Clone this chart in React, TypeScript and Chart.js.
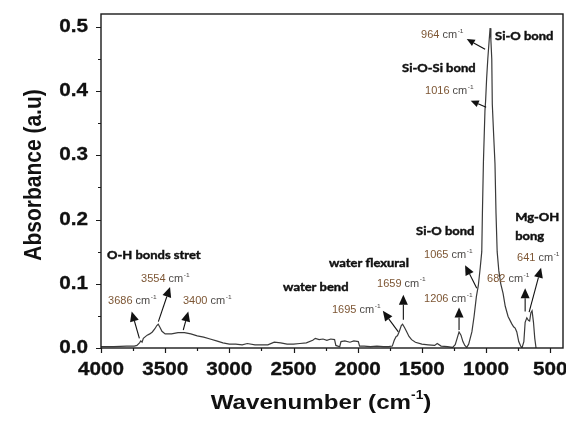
import React, { useEffect, useRef } from "react";
import { Chart, registerables } from "chart.js";

Chart.register(...registerables);

// ---- data ----
const wavenumbers = [
  4000, 3900, 3800, 3740, 3720, 3700, 3690, 3680, 3670, 3640,
  3620, 3600, 3580, 3565, 3554, 3540, 3525, 3500, 3450, 3400,
  3350, 3300, 3250, 3200, 3150, 3100, 3050, 3000, 2950, 2900,
  2860, 2800, 2700, 2650, 2600, 2550, 2500, 2450, 2400, 2350,
  2330, 2300, 2270, 2240, 2210, 2180, 2170, 2140, 2130, 2100,
  2060, 2030, 1995, 1985, 1950, 1900, 1850, 1800, 1760, 1730,
  1715, 1700, 1690, 1675, 1660, 1650, 1635, 1620, 1600, 1580,
  1550, 1500, 1450, 1400, 1380, 1350, 1300, 1260, 1240, 1225,
  1210, 1195, 1180, 1165, 1150, 1135, 1110, 1093, 1075, 1060,
  1045, 1033, 1028, 1020, 1008, 1003, 995, 986, 975, 968,
  962, 955, 951, 940, 930, 922, 913, 900, 885, 867,
  850, 828, 800, 785, 773, 760, 745, 730, 720, 705,
  695, 682, 670, 660, 650, 641, 630, 620, 610, 600,
];
const absorbance = [
  0.002, 0.002, 0.003, 0.003, 0.004, 0.008, 0.011, 0.009, 0.015, 0.02,
  0.022, 0.025, 0.03, 0.035, 0.037, 0.032, 0.026, 0.022, 0.022, 0.024,
  0.024, 0.022, 0.019, 0.017, 0.014, 0.011, 0.008, 0.006, 0.006, 0.005,
  0.007, 0.005, 0.005, 0.009, 0.008, 0.006, 0.006, 0.007, 0.008, 0.012,
  0.015, 0.013, 0.014, 0.012, 0.014, 0.013, 0.004, 0.002, 0.01, 0.011,
  0.009, 0.011, 0.01, 0.003, 0.003, 0.002, 0.003, 0.002, 0.002, 0.003,
  0.012, 0.018, 0.019, 0.026, 0.035, 0.037, 0.032, 0.026, 0.018, 0.013,
  0.009, 0.006, 0.005, 0.004, 0.007, 0.003, 0.002, 0.001, 0.005, 0.015,
  0.025, 0.02, 0.01, 0.004, 0.001, 0.006, 0.025, 0.049, 0.08, 0.097,
  0.125, 0.15, 0.21, 0.29, 0.37, 0.385, 0.42, 0.45, 0.48, 0.498,
  0.48, 0.45, 0.38, 0.33, 0.287, 0.21, 0.15, 0.12, 0.1, 0.085,
  0.065, 0.049, 0.038, 0.033, 0.031, 0.025, 0.01, 0.003, 0.0, 0.01,
  0.04, 0.047, 0.043, 0.042, 0.055, 0.058, 0.04, 0.015, 0.0, -0.01,
];

const xMajorTicks = [4000, 3500, 3000, 2500, 2000, 1500, 1000, 500];
const xMinorTicks = [3750, 3250, 2750, 2250, 1750, 1250, 750];
const yMajorTicks = [0, 0.1, 0.2, 0.3, 0.4, 0.5];
const yMinorTicks = [0.05, 0.15, 0.25, 0.35, 0.45];
const yTickLabels = ["0.0", "0.1", "0.2", "0.3", "0.4", "0.5"];

const xTitle = "Wavenumber (cm";
const yTitle = "Absorbance (a.u)";

// group labels (bold): text, wavenumber (left), absorbance (middle)
const groupLabels: [string, number, number][] = [
  ["O-H bonds stret", 3953, 0.145],
  ["water bend", 2581, 0.095],
  ["water flexural", 2223, 0.132],
  ["Si-O bond", 1545, 0.182],
  ["Mg-OH", 773, 0.204],
  ["bong", 773, 0.174],
  ["Si-O-Si bond", 1654, 0.435],
  ["Si-O bond", 929, 0.486],
];

// peak labels: number, wavenumber (left), absorbance (middle)
const peakLabels: [string, number, number][] = [
  ["3686", 3945, 0.073],
  ["3554", 3688, 0.107],
  ["3400", 3361, 0.073],
  ["1695", 2200, 0.059],
  ["1659", 1849, 0.1],
  ["1206", 1483, 0.076],
  ["1065", 1483, 0.145],
  ["682", 992, 0.107],
  ["641", 758, 0.14],
  ["1016", 1475, 0.4],
  ["964", 1506, 0.4875],
];

// arrows: tail wavenumber, tail absorbance, tip wavenumber, tip absorbance, head size
const arrows: [number, number, number, number, number][] = [
  [3701, 0.015, 3761, 0.057, 10],
  [3553, 0.041, 3462, 0.095, 10],
  [3359, 0.028, 3320, 0.057, 10],
  [1683, 0.025, 1804, 0.058, 10],
  [1644, 0.044, 1644, 0.083, 10],
  [1210, 0.028, 1210, 0.063, 10],
  [1072, 0.093, 1163, 0.129, 10],
  [695, 0.057, 695, 0.093, 10],
  [664, 0.056, 571, 0.125, 10],
  [999, 0.375, 1119, 0.385, 8],
  [1007, 0.465, 1150, 0.481, 8],
];

const SX = 1.15; // horizontal stretch of the reference text

function stretchedText(
  ctx: CanvasRenderingContext2D,
  text: string,
  x: number,
  y: number,
  font: string,
  color: string,
  align: CanvasTextAlign,
  sx = SX,
  stroke = 0
) {
  ctx.save();
  ctx.translate(x, y);
  ctx.scale(sx, 1);
  ctx.font = font;
  ctx.fillStyle = color;
  ctx.textAlign = align;
  ctx.textBaseline = "middle";
  ctx.fillText(text, 0, 0);
  if (stroke > 0) {
    ctx.strokeStyle = color;
    ctx.lineWidth = stroke;
    ctx.strokeText(text, 0, 0);
  }
  ctx.restore();
}

const decorPlugin = {
  id: "decor",
  afterDraw(chart: any) {
    const ctx: CanvasRenderingContext2D = chart.ctx;
    const xs = chart.scales.x;
    const ys = chart.scales.y;
    const a = chart.chartArea;
    ctx.save();
    // frame
    ctx.strokeStyle = "#1a1a1a";
    ctx.lineWidth = 1.4;
    ctx.strokeRect(a.left, a.top, a.right - a.left, a.bottom - a.top);
    // ticks
    ctx.lineWidth = 1.2;
    ctx.beginPath();
    xMajorTicks.forEach((v) => {
      const p = Math.round(xs.getPixelForValue(v)) + 0.5;
      ctx.moveTo(p, a.bottom);
      ctx.lineTo(p, a.bottom + 5);
    });
    xMinorTicks.forEach((v) => {
      const p = Math.round(xs.getPixelForValue(v)) + 0.5;
      ctx.moveTo(p, a.bottom);
      ctx.lineTo(p, a.bottom + 3);
    });
    yMajorTicks.forEach((v) => {
      const p = Math.round(ys.getPixelForValue(v)) + 0.5;
      ctx.moveTo(a.left, p);
      ctx.lineTo(a.left - 5, p);
    });
    yMinorTicks.forEach((v) => {
      const p = Math.round(ys.getPixelForValue(v)) + 0.5;
      ctx.moveTo(a.left, p);
      ctx.lineTo(a.left - 3, p);
    });
    ctx.stroke();

    const tickFont = "bold 18px 'Liberation Sans', Arial, sans-serif";
    xMajorTicks.forEach((v) => {
      stretchedText(ctx, String(v), xs.getPixelForValue(v), a.bottom + 22, tickFont, "#111", "center", SX, 0.3);
    });
    yMajorTicks.forEach((v, i) => {
      stretchedText(ctx, yTickLabels[i], a.left - 13, ys.getPixelForValue(v), tickFont, "#111", "right", SX, 0.3);
    });

    // x title with superscript
    const tFont = "bold 21px 'Liberation Sans', Arial, sans-serif";
    const supFont = "bold 12px 'Liberation Sans', Arial, sans-serif";
    ctx.font = tFont;
    const w1 = ctx.measureText(xTitle).width;
    const wClose = ctx.measureText(")").width;
    ctx.font = supFont;
    const wSup = ctx.measureText("-1").width;
    const total = (w1 + wSup + wClose) * SX;
    const cx = 321;
    const cy = a.bottom + 55;
    let sx0 = cx - total / 2;
    stretchedText(ctx, xTitle, sx0, cy, tFont, "#111", "left");
    sx0 += w1 * SX;
    stretchedText(ctx, "-1", sx0, cy - 7, supFont, "#111", "left");
    sx0 += wSup * SX;
    stretchedText(ctx, ")", sx0, cy, tFont, "#111", "left");

    // y title (rotated)
    ctx.save();
    ctx.translate(34, 175);
    ctx.rotate(-Math.PI / 2);
    ctx.scale(1, SX);
    ctx.font = tFont;
    ctx.fillStyle = "#111";
    ctx.textAlign = "center";
    ctx.textBaseline = "middle";
    ctx.fillText(yTitle, 0, 0);
    ctx.restore();

    // group labels
    const gFont = "bold 12px Lato, 'Liberation Sans', sans-serif";
    groupLabels.forEach(([t, w, v]) => {
      stretchedText(ctx, t, xs.getPixelForValue(w), ys.getPixelForValue(v), gFont, "#111", "left", 1.08, 0.45);
    });

    // peak labels
    const pFont = "10px 'Liberation Sans', Arial, sans-serif";
    const pSup = "6px 'Liberation Sans', Arial, sans-serif";
    peakLabels.forEach(([t, w, v]) => {
      let x = xs.getPixelForValue(w);
      const y = ys.getPixelForValue(v);
      ctx.font = pFont;
      const wn = ctx.measureText(t + " ").width;
      const wc = ctx.measureText("cm").width;
      stretchedText(ctx, t, x, y, pFont, "#7d5634", "left", 1.1);
      x += wn * 1.1;
      stretchedText(ctx, "cm", x, y, pFont, "#4d4a48", "left", 1.1);
      x += wc * 1.1;
      stretchedText(ctx, "-1", x + 0.5, y - 4, pSup, "#4d4a48", "left", 1.1);
    });

    // arrows
    ctx.strokeStyle = "#111";
    ctx.fillStyle = "#111";
    arrows.forEach(([w0, v0, w1a, v1, hs]) => {
      const x0 = xs.getPixelForValue(w0);
      const y0 = ys.getPixelForValue(v0);
      const x1 = xs.getPixelForValue(w1a);
      const y1 = ys.getPixelForValue(v1);
      const ang = Math.atan2(y1 - y0, x1 - x0);
      const bx = x1 - hs * Math.cos(ang);
      const by = y1 - hs * Math.sin(ang);
      ctx.lineWidth = 1.1;
      ctx.beginPath();
      ctx.moveTo(x0, y0);
      ctx.lineTo(bx, by);
      ctx.stroke();
      const hw = hs * 0.45;
      ctx.beginPath();
      ctx.moveTo(x1, y1);
      ctx.lineTo(bx + hw * Math.sin(ang), by - hw * Math.cos(ang));
      ctx.lineTo(bx - hw * Math.sin(ang), by + hw * Math.cos(ang));
      ctx.closePath();
      ctx.fill();
    });
    ctx.restore();
  },
};

export default function App() {
  const ref = useRef<HTMLCanvasElement>(null);
  useEffect(() => {
    document.body.style.margin = "0";
    document.body.style.background = "#ffffff";
    const canvas = ref.current;
    if (!canvas) return;
    const points = wavenumbers.map((w, i) => ({ x: w, y: absorbance[i] }));
    const chart = new Chart(canvas, {
      type: "line",
      data: {
        datasets: [
          {
            data: points,
            borderColor: "#3a3a3a",
            borderWidth: 1.2,
            pointRadius: 0,
            tension: 0,
            fill: false,
          },
        ],
      },
      options: {
        responsive: false,
        animation: false,
        devicePixelRatio: 1,
        layout: { padding: { left: 101, right: 3, top: 14, bottom: 74 } },
        plugins: { legend: { display: false }, tooltip: { enabled: false }, title: { display: false } },
        scales: {
          x: { type: "linear", min: 400, max: 4000, reverse: true, display: false },
          y: { type: "linear", min: 0, max: 0.52, display: false },
        },
      },
      plugins: [decorPlugin],
    });
    return () => chart.destroy();
  }, []);
  return (
    <canvas ref={ref} width={566} height={422} style={{ display: "block", width: 566, height: 422 }} />
  );
}
